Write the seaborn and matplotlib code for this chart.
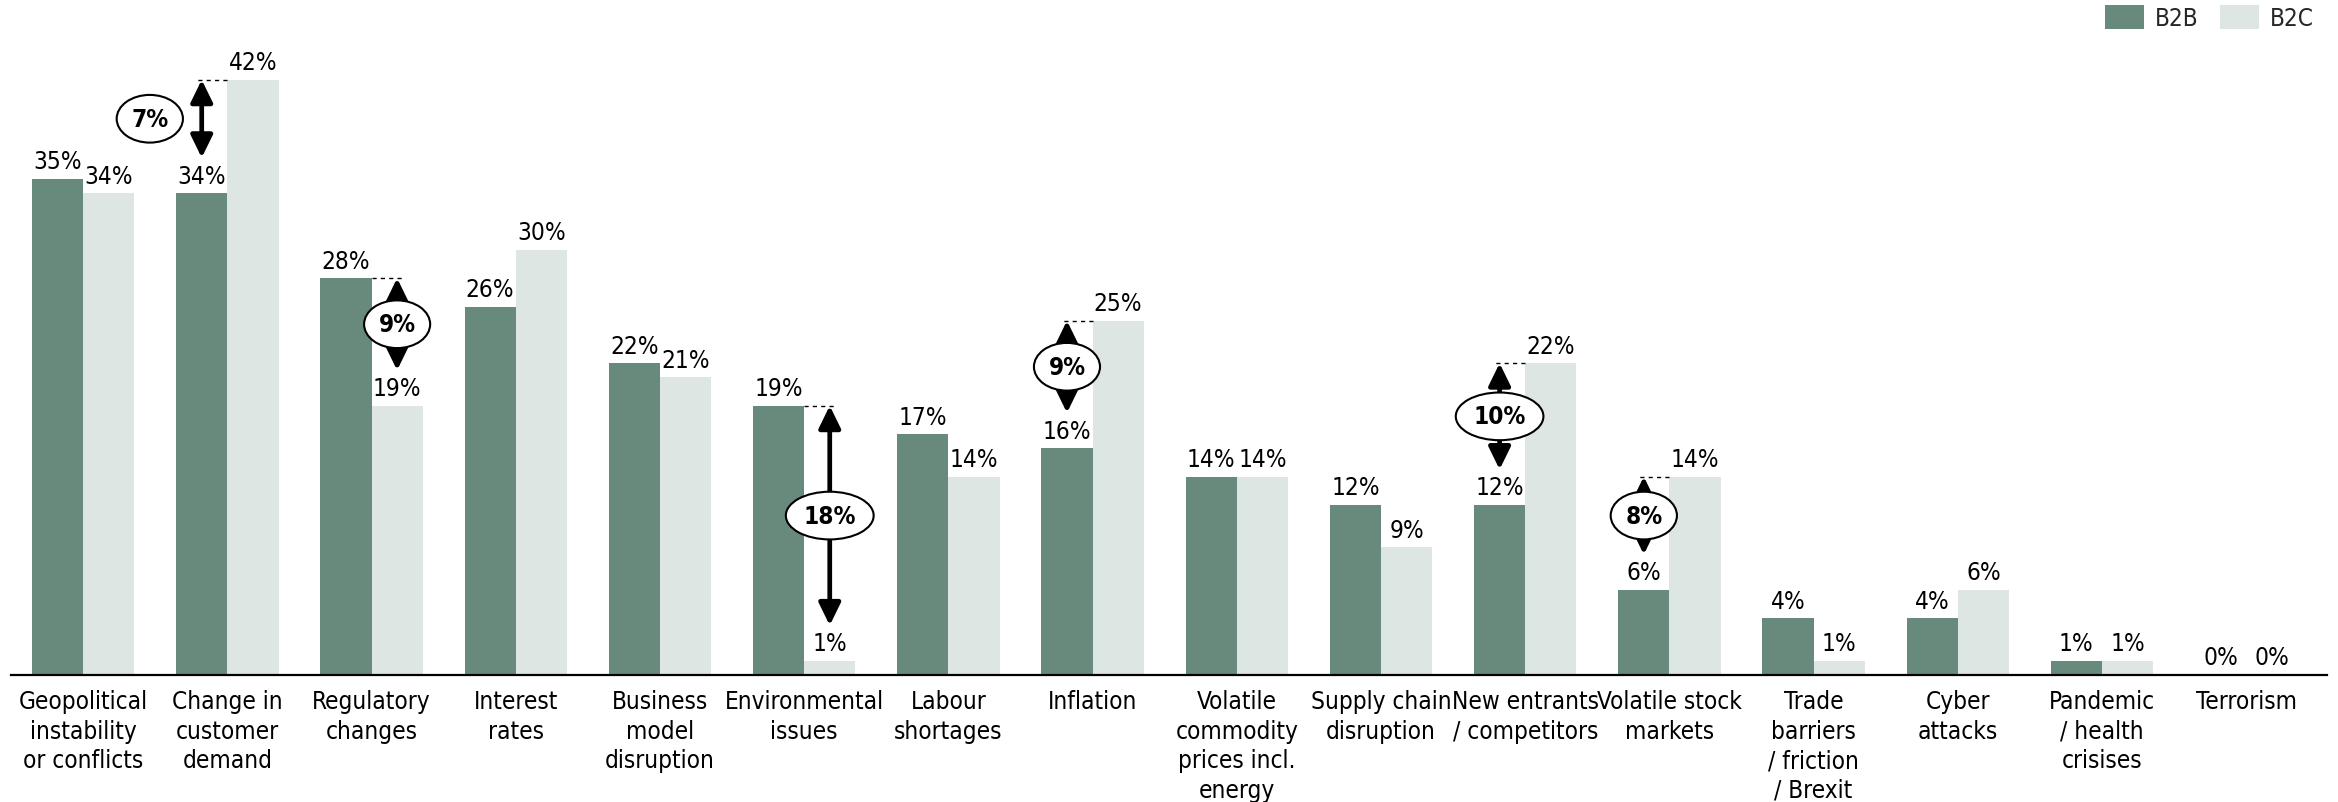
import matplotlib
matplotlib.use("Agg")
import matplotlib.pyplot as plt
from matplotlib import font_manager
from matplotlib.patches import Patch, FancyArrowPatch, ArrowStyle
import seaborn as sns
import pandas as pd

# Risk categories and share of respondents naming them (%)
categories = [
    "Geopolitical\ninstability\nor conflicts",
    "Change in\ncustomer\ndemand",
    "Regulatory\nchanges",
    "Interest\nrates",
    "Business\nmodel\ndisruption",
    "Environmental\nissues",
    "Labour\nshortages",
    "Inflation",
    "Volatile\ncommodity\nprices incl.\nenergy",
    "Supply chain\ndisruption",
    "New entrants\n/ competitors",
    "Volatile stock\nmarkets",
    "Trade\nbarriers\n/ friction\n/ Brexit",
    "Cyber\nattacks",
    "Pandemic\n/ health\ncrisises",
    "Terrorism",
]
b2b = [35, 34, 28, 26, 22, 19, 17, 16, 14, 12, 12, 6, 4, 4, 1, 0]
b2c = [34, 42, 19, 30, 21, 1, 14, 25, 14, 9, 22, 14, 1, 6, 1, 0]
segments = ["B2B", "B2C"]
segment_colors = ["#688A7C", "#DEE6E3"]

# Highlighted B2B/B2C gaps
gap_category = [1, 2, 5, 7, 10, 11]
gap_label = ["7%", "9%", "18%", "9%", "10%", "8%"]
# horizontal shift of the gap bubble away from its arrow (category units)
gap_bubble_shift = [-0.36, 0, 0, 0, 0, 0]

sns.set_style("white")

# prefer a condensed sans face when one is installed
entries = font_manager.fontManager.ttflist
has_dv_cond = any(f.name == "DejaVu Sans" and str(f.stretch) in ("condensed", "semi-condensed", "500", "75", "87")
                  for f in entries)
has_lib_narrow = any(f.name == "Liberation Sans Narrow" for f in entries)
if has_dv_cond:
    plt.rcParams["font.family"] = ["DejaVu Sans"]
    plt.rcParams["font.stretch"] = "condensed"
    FS = 17.5
elif has_lib_narrow:
    plt.rcParams["font.family"] = ["Liberation Sans Narrow"]
    FS = 19
else:
    plt.rcParams["font.family"] = ["DejaVu Sans"]
    FS = 15.5

df = pd.DataFrame({
    "risk": categories * 2,
    "share": b2b + b2c,
    "segment": ["B2B"] * len(categories) + ["B2C"] * len(categories),
})

fig = plt.figure(figsize=(23.38, 8.03), dpi=100)
ax = fig.add_axes([11 / 2338, 127 / 803, 2316 / 2338, 676 / 803])

sns.barplot(
    data=df, x="risk", y="share", hue="segment", order=categories,
    hue_order=segments, palette=segment_colors, saturation=1,
    width=0.71, linewidth=0, legend=False, ax=ax,
)

ax.set_xlim(-0.5, 15.56)
ax.set_ylim(0, 47.7)
ax.set_yticks([])
ax.set_xlabel("")
ax.set_ylabel("")
for s in ("left", "right", "top"):
    ax.spines[s].set_visible(False)
ax.spines["bottom"].set_color("black")
ax.spines["bottom"].set_linewidth(1.6)
ax.tick_params(axis="x", length=0, pad=10, labelsize=FS, colors="black")
for lab in ax.get_xticklabels():
    lab.set_linespacing(1.3)

# value labels above each bar
for cont, vals in zip(ax.containers, [b2b, b2c]):
    ax.bar_label(cont, labels=[f"{v}%" for v in vals], padding=4,
                 fontsize=FS, color="black")

centers = {
    "B2B": [p.get_x() + p.get_width() / 2 for p in ax.containers[0]],
    "B2C": [p.get_x() + p.get_width() / 2 for p in ax.containers[1]],
}

# gap arrows with bubble labels
for i, lab, shift in zip(gap_category, gap_label, gap_bubble_shift):
    hi, lo = max(b2b[i], b2c[i]), min(b2b[i], b2c[i])
    low_seg = "B2B" if b2b[i] <= b2c[i] else "B2C"
    x = centers[low_seg][i]
    bottom = lo + 2.5
    arrow = FancyArrowPatch(
        (x, hi), (x, bottom),
        arrowstyle=ArrowStyle("<|-|>", head_length=0.45, head_width=0.22),
        mutation_scale=30, lw=3.4, color="black",
        shrinkA=0, shrinkB=0, zorder=4,
    )
    ax.add_patch(arrow)
    outward = -1 if low_seg == "B2B" else 1
    ax.plot([i, x + outward * 0.05], [hi, hi], color="black",
            lw=1.0, ls=(0, (3, 3)), zorder=3)
    ax.text(x + shift, (hi + bottom) / 2, lab, ha="center", va="center",
            fontsize=FS, fontweight="bold", color="black", zorder=5,
            bbox=dict(boxstyle="ellipse,pad=0.2", fc="white", ec="black",
                      lw=1.5))

handles = [Patch(facecolor=c, edgecolor="none", label=s)
           for s, c in zip(segments, segment_colors)]
fig.legend(handles=handles, loc="upper right", ncol=2, frameon=False,
           bbox_to_anchor=(2314 / 2338, 1 - 6 / 803), fontsize=FS,
           handlelength=1.6, handleheight=1.15, handletextpad=0.45,
           columnspacing=0.9, borderpad=0, borderaxespad=0)

fig.savefig("out.png", dpi=100)
